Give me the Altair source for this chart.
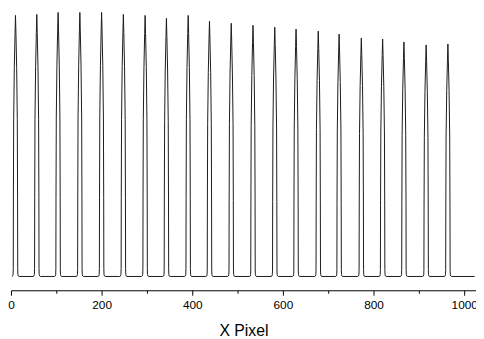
import altair as alt
import pandas as pd

# Peak centres (X Pixel) and peak heights (arbitrary intensity above baseline)
peak_x = [10, 57, 104, 152, 200, 248, 296, 343, 391, 438, 486,
          534, 582, 629, 678, 724, 773, 820, 867, 916, 964]
peak_h = [265, 266, 268, 268, 268, 266, 265, 262, 265, 259, 257,
          255, 253, 251, 249, 246, 242, 241, 238, 235, 236]

# Shape of one peak: offset from centre (X Pixel) and fraction of height
shape_dx = [-8, -6.2, -5.3, -4.9, -4.6, -4.0, -2.6, -1.0, 0, 1.0, 2.6, 4.0, 4.6, 4.9, 5.3, 6.2, 8]
shape_f = [0, 0.002, 0.008, 0.03, 0.3, 0.6, 0.8, 0.93, 1, 0.93, 0.8, 0.6, 0.3, 0.03, 0.008, 0.002, 0]

# Trailing flat baseline after the last peak
tail_x = [1023]
tail_y = [0]

rows = []
for cx, h in zip(peak_x, peak_h):
    for dx, f in zip(shape_dx, shape_f):
        rows.append({"x": cx + dx, "y": h * f})
for tx, ty in zip(tail_x, tail_y):
    rows.append({"x": tx, "y": ty})
df = pd.DataFrame(rows)
df["i"] = range(len(df))

tick_values = list(range(0, 1001, 100))

chart = (
    alt.Chart(df)
    .mark_line(color="#1a1a1a", strokeWidth=1)
    .encode(
        x=alt.X(
            "x:Q",
            title="X Pixel",
            scale=alt.Scale(domain=[0, 1026], nice=False, zero=False),
            axis=alt.Axis(
                values=tick_values,
                labelExpr="datum.value % 200 === 0 ? datum.label : ''",
                format="d",
                grid=False,
                domainColor="black",
                domainWidth=1,
                tickColor="black",
                tickWidth=1,
                tickSize={"condition": {"test": "datum.value % 200 === 0", "value": 5}, "value": 3},
                labelFont="Arial",
                labelFontSize=12,
                labelColor="black",
                labelPadding=5,
                labelFlush=False,
                labelOverlap=False,
                titleFont="Arial",
                titleFontSize=16,
                titleFontWeight="normal",
                titleColor="black",
                titlePadding=12,
            ),
        ),
        y=alt.Y(
            "y:Q",
            scale=alt.Scale(domain=[-14, 270], nice=False, zero=False),
            axis=None,
        ),
        order="i:Q",
    )
    .properties(
        width=472,
        height=284,
        autosize=alt.AutoSizeParams(type="none"),
        padding={"left": 3, "top": 0, "right": 0, "bottom": 50},
    )
    .configure_view(stroke=None)
)

chart.save("out.html", embed_options={"renderer": "svg", "actions": False})
